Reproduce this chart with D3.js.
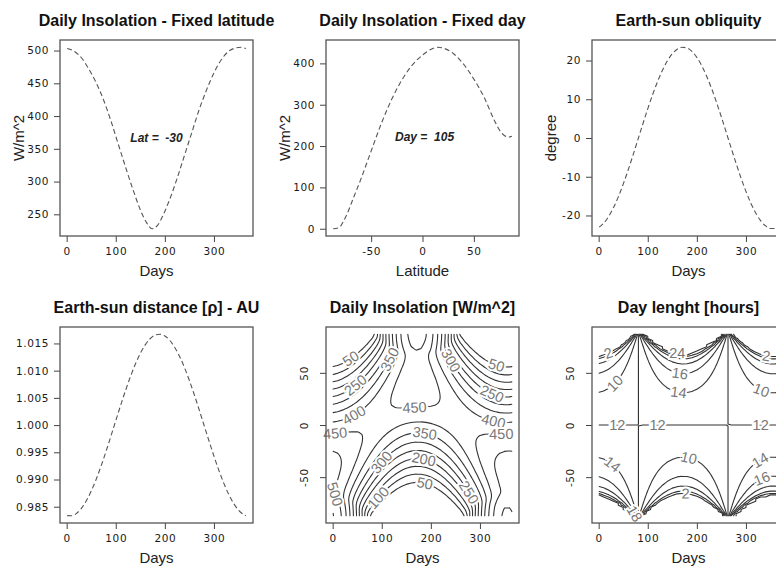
<!DOCTYPE html>
<html>
<head>
<meta charset="utf-8">
<script src="https://cdn.jsdelivr.net/npm/d3@7"></script>
<style>
body { margin: 0; background: #fff; }
svg { display: block; font-family: "Liberation Sans", Arial, sans-serif; }
.tick text { font-family: "DejaVu Sans", sans-serif; font-size: 10.5px; fill: #1a1a1a; letter-spacing: 0.6px; }
.tick line { stroke: #444; }
</style>
</head>
<body>
<div id="chart"></div>
<script>
// insolation at latitude -30, by day of year
let latDays = [1, 15, 30, 45, 60, 75, 90, 106, 120, 135, 150, 163, 174, 185, 196, 210, 225, 240, 255, 270, 285, 300, 315, 330, 345, 355, 365];
let latInsolation = [503, 499, 489, 472, 451, 425, 393, 355, 322, 288, 257, 237, 228, 233, 248, 273, 305, 340, 375, 410, 440, 466, 486, 499, 504, 505, 503];

// insolation on day 105, by latitude
let dayLatitudes = [-87, -81, -77, -73, -68, -60, -50, -40, -30, -20, -10, 0, 10, 15, 20, 30, 40, 50, 60, 70, 76, 80, 84, 87];
let dayInsolation = [0, 3, 18, 38, 70, 120, 188, 255, 313, 360, 396, 420, 436, 439, 437, 424, 398, 362, 318, 262, 235, 225, 222, 224];

// obliquity (declination) and earth-sun distance, same days
let days = [1, 10, 20, 30, 40, 50, 60, 70, 80, 90, 100, 110, 120, 130, 140, 150, 160, 170, 180,
    190, 200, 210, 220, 230, 240, 250, 260, 270, 280, 290, 300, 310, 320, 330, 340, 350, 360, 365];
let declination = [-23.00, -22.03, -20.33, -18.03, -15.20, -11.92, -8.29, -4.41, -0.40, 3.62, 7.53, 11.22,
    14.58, 17.51, 19.92, 21.74, 22.92, 23.42, 23.23, 22.35, 20.82, 18.66, 15.95, 12.78, 9.23, 5.40,
    1.41, -2.62, -6.57, -10.33, -13.78, -16.82, -19.37, -21.34, -22.69, -23.36, -23.34, -23.08];
let distance = [0.98336, 0.98334, 0.98378, 0.98470, 0.98608, 0.98787, 0.99001, 0.99245, 0.99512, 0.99792,
    1.00079, 1.00364, 1.00637, 1.00892, 1.01121, 1.01316, 1.01473, 1.01586, 1.01652, 1.01669, 1.01637,
    1.01557, 1.01430, 1.01262, 1.01056, 1.00818, 1.00557, 1.00279, 0.99993, 0.99707, 0.99430, 0.99169,
    0.98933, 0.98729, 0.98562, 0.98438, 0.98360, 0.98339];

let solarConstant = 1367;
let gridLats = d3.range(-87, 88, 2);

let insolationLevels = [50, 100, 150, 200, 250, 300, 350, 400, 450, 500, 550];
let dayLengthLevels = [2, 4, 6, 8, 10, 12, 14, 16, 18, 20, 22, 24];

// contour labels: level, day, latitude
let insolationLabels = [[50, 32, 67], [250, 38, 43], [400, 38, 14], [350, 107, 65], [450, 166, 23],
    [300, 245, 63], [50, 336, 61], [250, 330, 36], [400, 330, 9], [450, 8, -25], [350, 186, -13],
    [300, 100, -36], [200, 183, -39], [500, 14, -65], [100, 93, -70], [50, 186, -60], [250, 276, -65],
    [450, 344, -22]];
let dayLengthLabels = [[2, 19, 70], [10, 24, 44], [24, 164, 75], [16, 167, 54], [14, 164, 36],
    [12, 38, 0], [12, 120, 0], [12, 330, 0], [2, 342, 68], [10, 336, 39], [10, 181, -37],
    [2, 177, -69], [14, 21, -42], [14, 333, -37], [18, 115, -72], [16, 345, -66]];

let dayTicks = [0, 100, 200, 300];

let width = 776;
let height = 566;
let colX = [60, 326, 592];
let panelW = 193;
let rows = [{top: 40, bottom: 236}, {top: 327, bottom: 523}];
let dayDomain = [1 - 14.56, 365 + 14.56];

// plain hyphen for negatives, like the original
let intFmt = d => String(d);

let svg = d3.select("#chart").append("svg")
    .attr("width", width)
    .attr("height", height);

function panel(col, row, xDomain, yDomain) {
    let left = colX[col], right = left + panelW;
    let top = rows[row].top, bottom = rows[row].bottom;
    let x = d3.scaleLinear().domain(xDomain).range([left, right]);
    let y = d3.scaleLinear().domain(yDomain).range([bottom, top]);
    return {left, right, top, bottom, x, y};
}

function frame(p, title, xlab, ylab, xticks, yticks, yfmt, rotateY) {
    let xa = svg.append("g")
        .attr("transform", `translate(0, ${p.bottom})`)
        .call(d3.axisBottom(p.x).tickValues(xticks).tickSize(6).tickPadding(6).tickFormat(intFmt));
    xa.select(".domain").remove();

    let ya = svg.append("g")
        .attr("transform", `translate(${p.left}, 0)`)
        .call(d3.axisLeft(p.y).tickValues(yticks).tickSize(6).tickPadding(5).tickFormat(yfmt));
    ya.select(".domain").remove();
    if (rotateY) {
        ya.selectAll(".tick text")
            .attr("x", null).attr("dy", null)
            .attr("text-anchor", "middle")
            .attr("dominant-baseline", "central")
            .attr("transform", "translate(-22, 0) rotate(-90)");
    }

    svg.append("rect")
        .attr("x", p.left).attr("y", p.top)
        .attr("width", p.right - p.left).attr("height", p.bottom - p.top)
        .attr("fill", "none").attr("stroke", "#555").attr("stroke-width", 1.3);

    svg.append("text")
        .attr("x", (p.left + p.right) / 2).attr("y", p.top - 20)
        .attr("text-anchor", "middle").attr("dominant-baseline", "central")
        .attr("font-weight", "bold").attr("font-size", "16px").attr("fill", "#111")
        .text(title);

    svg.append("text")
        .attr("x", (p.left + p.right) / 2).attr("y", p.bottom + 34)
        .attr("text-anchor", "middle").attr("dominant-baseline", "central")
        .attr("font-size", "15px").attr("fill", "#222")
        .text(xlab);

    if (ylab) {
        svg.append("text")
            .attr("transform", `translate(${p.left - 42}, ${(p.top + p.bottom) / 2}) rotate(-90)`)
            .attr("text-anchor", "middle").attr("dominant-baseline", "central")
            .attr("font-size", "15px").attr("fill", "#222")
            .text(ylab);
    }
}

function dashed(p, xs, ys) {
    let line = d3.line()
        .x(d => p.x(d[0]))
        .y(d => p.y(d[1]))
        .curve(d3.curveMonotoneX);
    svg.append("path")
        .datum(xs.map((v, i) => [v, ys[i]]))
        .attr("d", line)
        .attr("fill", "none")
        .attr("stroke", "#555")
        .attr("stroke-width", 1.1)
        .attr("stroke-dasharray", "5 3");
}

function note(p, x, y, txt) {
    svg.append("text")
        .attr("x", p.x(x)).attr("y", p.y(y))
        .attr("text-anchor", "middle").attr("dominant-baseline", "central")
        .attr("font-size", "12px").attr("font-weight", "bold").attr("font-style", "italic")
        .attr("fill", "#222").style("white-space", "pre")
        .text(txt);
}

// top row
let p1 = panel(0, 0, dayDomain, [216.9, 516.1]);
frame(p1, "Daily Insolation - Fixed latitude", "Days", "W/m^2", dayTicks, [250, 300, 350, 400, 450, 500], intFmt);
dashed(p1, latDays, latInsolation);
note(p1, 183, 367, "Lat =  -30");

let p2 = panel(1, 0, [-93.96, 93.96], [-17.56, 456.56]);
frame(p2, "Daily Insolation - Fixed day", "Latitude", "W/m^2", [-50, 0, 50], [0, 100, 200, 300, 400], intFmt);
dashed(p2, dayLatitudes, dayInsolation);
note(p2, 2, 222, "Day =  105");

let p3 = panel(2, 0, dayDomain, [-25.3, 25.3]);
frame(p3, "Earth-sun obliquity", "Days", "degree", dayTicks, [-20, -10, 0, 10, 20], intFmt);
dashed(p3, days, declination);

// bottom row
let p4 = panel(0, 1, dayDomain, [0.98201, 1.01802]);
frame(p4, "Earth-sun distance [\u03c1] - AU", "Days", null, dayTicks,
    [0.985, 0.990, 0.995, 1.000, 1.005, 1.010, 1.015], d3.format(".3f"));
dashed(p4, days, distance);

// grids for the contour panels, built from declination and distance
let rad = Math.PI / 180;
function hourAngle(lat, dec) {
    let c = -Math.tan(lat * rad) * Math.tan(dec * rad);
    return c >= 1 ? 0 : c <= -1 ? Math.PI : Math.acos(c);
}
let insolationGrid = gridLats.map(lat => days.map((d, i) => {
    let dec = declination[i], h0 = hourAngle(lat, dec);
    return solarConstant / Math.PI / (distance[i] * distance[i]) *
        (h0 * Math.sin(lat * rad) * Math.sin(dec * rad) + Math.cos(lat * rad) * Math.cos(dec * rad) * Math.sin(h0));
}));
let dayLengthGrid = gridLats.map(lat => days.map((d, i) => {
    let h0 = hourAngle(lat, declination[i]);
    return h0 === Math.PI ? 24 : 24 * h0 / Math.PI;
}));

// marching squares on the (days x lats) grid
function isoSegments(grid, xs, ys, level) {
    let segs = [];
    let up = v => v >= level;
    let cross = (x0, y0, v0, x1, y1, v1) => {
        let t = (level - v0) / (v1 - v0);
        t = Math.max(0, Math.min(1, t));
        return [x0 + t * (x1 - x0), y0 + t * (y1 - y0)];
    };
    for (let j = 0; j < ys.length - 1; j++) {
        for (let i = 0; i < xs.length - 1; i++) {
            let a = grid[j][i], b = grid[j][i + 1], c = grid[j + 1][i + 1], d = grid[j + 1][i];
            let pts = [];
            if (up(a) !== up(b)) pts.push(cross(xs[i], ys[j], a, xs[i + 1], ys[j], b));
            if (up(b) !== up(c)) pts.push(cross(xs[i + 1], ys[j], b, xs[i + 1], ys[j + 1], c));
            if (up(c) !== up(d)) pts.push(cross(xs[i + 1], ys[j + 1], c, xs[i], ys[j + 1], d));
            if (up(d) !== up(a)) pts.push(cross(xs[i], ys[j + 1], d, xs[i], ys[j], a));
            if (pts.length === 2) segs.push(pts);
            else if (pts.length === 4) {
                if (up((a + b + c + d) / 4) === up(a)) { segs.push([pts[0], pts[1]]); segs.push([pts[2], pts[3]]); }
                else { segs.push([pts[3], pts[0]]); segs.push([pts[1], pts[2]]); }
            }
        }
    }
    return segs;
}

function contourPanel(p, grid, levels, labels) {
    let byLevel = {};
    let g = svg.append("g");
    levels.forEach(level => {
        let segs = isoSegments(grid, days, gridLats, level)
            .map(s => s.map(q => [p.x(q[0]), p.y(q[1])]));
        byLevel[level] = segs;
        g.append("path")
            .attr("d", segs.map(s => `M${s[0][0]},${s[0][1]}L${s[1][0]},${s[1][1]}`).join(""))
            .attr("fill", "none")
            .attr("stroke", "#333")
            .attr("stroke-width", 1.1)
            .attr("stroke-linecap", "round");
    });
    labels.forEach(([level, d, lat]) => {
        let tx = p.x(d), ty = p.y(lat);
        let best = null, bestDist = Infinity;
        (byLevel[level] || []).forEach(s => {
            let dx = s[1][0] - s[0][0], dy = s[1][1] - s[0][1];
            let len2 = dx * dx + dy * dy;
            if (len2 < 0.25) return;
            let t = Math.max(0, Math.min(1, ((tx - s[0][0]) * dx + (ty - s[0][1]) * dy) / len2));
            let px = s[0][0] + t * dx, py = s[0][1] + t * dy;
            let dist = (px - tx) ** 2 + (py - ty) ** 2;
            if (dist < bestDist) { bestDist = dist; best = {px, py, dx, dy}; }
        });
        if (!best) return;
        let ang = Math.atan2(best.dy, best.dx) * 180 / Math.PI;
        if (ang > 90) ang -= 180;
        if (ang <= -90) ang += 180;
        g.append("text")
            .attr("transform", `translate(${best.px}, ${best.py}) rotate(${ang})`)
            .attr("text-anchor", "middle").attr("dominant-baseline", "central")
            .attr("font-size", "14.5px").attr("fill", "#777")
            .attr("stroke", "#fff").attr("stroke-width", 4).attr("paint-order", "stroke")
            .text(level);
    });
}

let p5 = panel(1, 1, dayDomain, [-93.96, 93.96]);
contourPanel(p5, insolationGrid, insolationLevels, insolationLabels);
frame(p5, "Daily Insolation [W/m^2]", "Days", null, dayTicks, [-50, 0, 50], intFmt, true);

let p6 = panel(2, 1, dayDomain, [-93.96, 93.96]);
contourPanel(p6, dayLengthGrid, dayLengthLevels, dayLengthLabels);
frame(p6, "Day lenght [hours]", "Days", null, dayTicks, [-50, 0, 50], intFmt, true);
</script>
</body>
</html>
